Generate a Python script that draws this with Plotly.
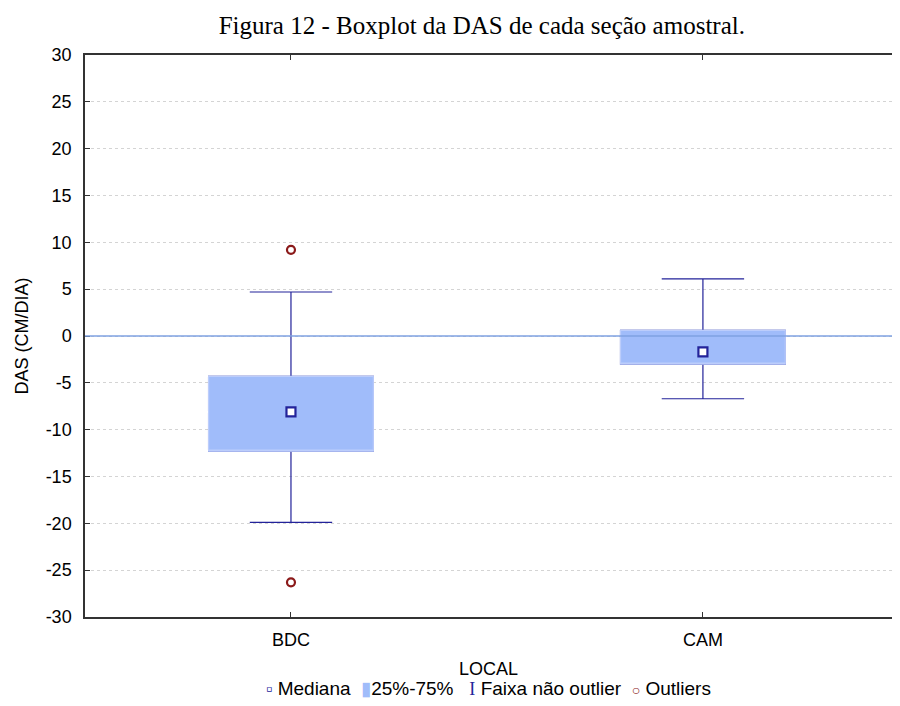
import plotly.graph_objects as go

categories = ["BDC", "CAM"]
q1 = [-12.3, -3.0]
median = [-8.1, -1.7]
q3 = [-4.3, 0.6]
lower_whisker = [-19.9, -6.7]
upper_whisker = [4.7, 6.1]
outlier_x = ["BDC", "BDC"]
outlier_y = [9.2, -26.3]

title_text = "Figura 12 - Boxplot da DAS de cada seção amostral."
y_ticks = [-30, -25, -20, -15, -10, -5, 0, 5, 10, 15, 20, 25, 30]
y_ticktext = [str(v) for v in y_ticks]
legend_labels = ["Mediana", "25%-75%", "Faixa não outlier", "Outliers"]

dark_blue = "#23239a"
box_fill = "#A0BCFA"
red = "#8B1A1A"
font = "Liberation Sans, Arial, sans-serif"
fs = 18

fig = go.Figure()

# whiskers (drawn first, box covers inner part)
fig.add_trace(go.Box(
    x=categories, q1=q1, median=median, q3=q3,
    lowerfence=lower_whisker, upperfence=upper_whisker,
    width=0.4, whiskerwidth=0.5,
    line=dict(color=dark_blue, width=1.2),
    fillcolor=box_fill, boxpoints=False, showlegend=False, hoverinfo="skip",
))
# box 25%-75%
fig.add_trace(go.Box(
    x=categories, q1=q1, median=q1, q3=q3,
    lowerfence=q1, upperfence=q3,
    width=0.4, whiskerwidth=0.5,
    line=dict(color="#bccdfb", width=1.2),
    fillcolor=box_fill, boxpoints=False, showlegend=False, hoverinfo="skip",
))

fig.add_trace(go.Scatter(
    x=categories, y=median, mode="markers", name=legend_labels[0], showlegend=False,
    marker=dict(symbol="square", size=9, color="white",
                line=dict(color=dark_blue, width=2.2)),
))
fig.add_trace(go.Scatter(
    x=outlier_x, y=outlier_y, mode="markers", name=legend_labels[3], showlegend=False,
    marker=dict(symbol="circle-open", size=8, color=red,
                line=dict(color=red, width=2.2)),
))

fig.add_shape(type="line", xref="paper", yref="y", x0=0, x1=1, y0=0, y1=0,
              line=dict(color="#7FA2E2", width=1.5), layer="above")

legend_text = (
    f'<span style="color:{dark_blue};font-size:18px">▫</span> {legend_labels[0]}  '
    f'<span style="color:{box_fill};font-size:19px">▮</span>{legend_labels[1]}   '
    f'<span style="color:{dark_blue};font-family:Liberation Serif, serif;font-size:18px">Ι</span> {legend_labels[2]}  '
    f'<span style="color:{red};font-size:14px"><b>○</b></span> {legend_labels[3]}'
)
fig.add_annotation(text=legend_text, xref="paper", yref="paper",
                   x=0.5, xanchor="center", y=-(680 - 609) / 562, yanchor="middle",
                   showarrow=False, font=dict(family=font, size=19, color="black"))

fig.update_layout(
    width=884, height=690,
    paper_bgcolor="white", plot_bgcolor="white",
    margin=dict(l=77, r=0, t=47, b=81),
    boxmode="overlay",
    showlegend=False,
    title=dict(text=title_text, x=0.536, xanchor="center", y=1 - 17 / 690, yanchor="middle",
               font=dict(family="Liberation Serif, Times New Roman, serif", size=25, color="black")),
    font=dict(family=font, size=fs, color="black"),
)
fig.update_xaxes(
    type="category", range=[-0.5, 1.459],
    showline=True, linecolor="#333333", linewidth=1.5, mirror="ticks",
    ticks="inside", ticklen=5, tickcolor="#333333",
    showgrid=False, zeroline=False, ticklabelstandoff=6,
    tickfont=dict(family=font, size=fs),
    title=dict(text="LOCAL", font=dict(family=font, size=fs), standoff=13),
)
fig.update_yaxes(
    range=[-30, 30], tickvals=y_ticks, ticktext=y_ticktext,
    showline=True, linecolor="#333333", linewidth=1.5,
    ticks="inside", ticklen=5, tickcolor="#333333",
    showgrid=True, gridcolor="#d4d4d4", griddash="dot", gridwidth=1,
    zeroline=False, ticklabelstandoff=8,
    tickfont=dict(family=font, size=fs),
    title=dict(text="DAS (CM/DIA)", font=dict(family=font, size=fs), standoff=12),
)

fig.write_html("out.html")
